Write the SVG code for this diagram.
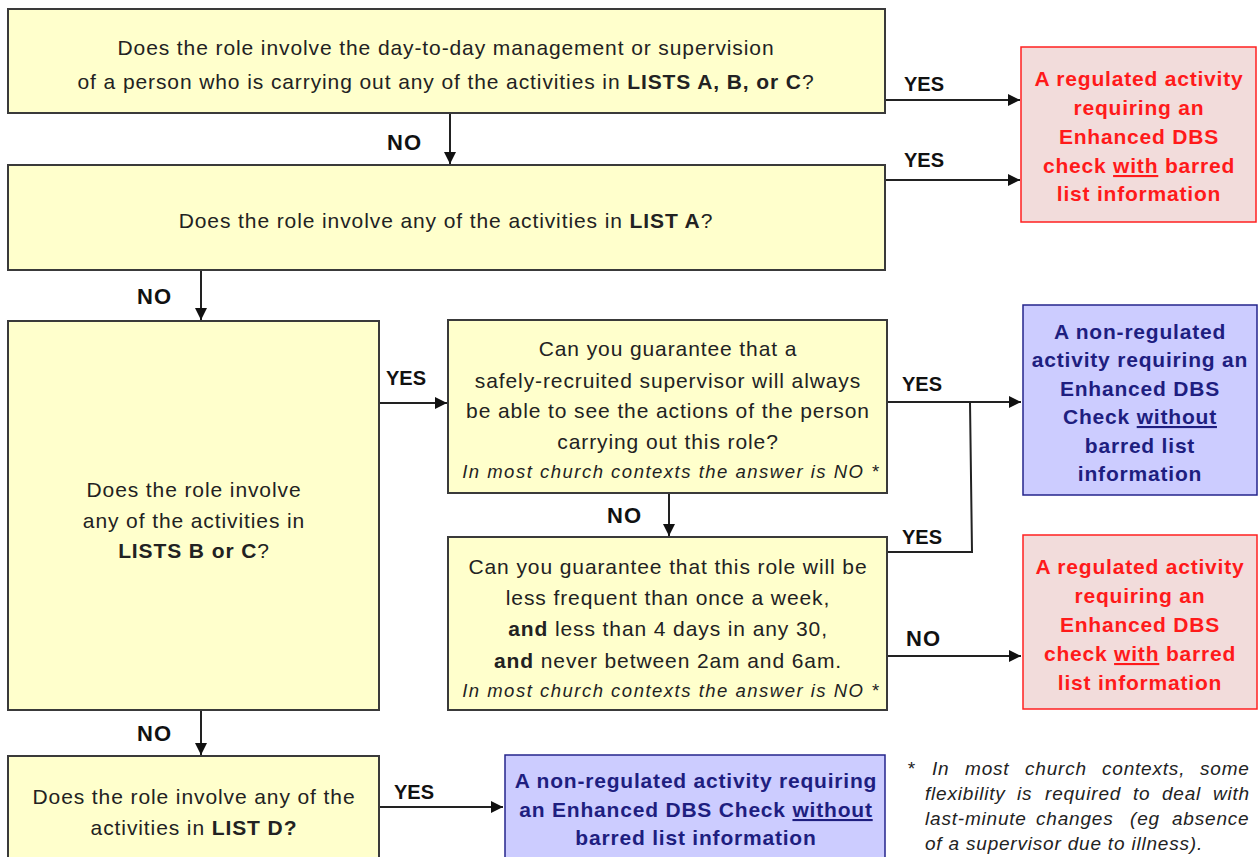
<svg xmlns="http://www.w3.org/2000/svg" width="1260" height="857" viewBox="0 0 1260 857">
<defs>
<style>
.q{fill:#FFFFCC;stroke:#3a3a3a;stroke-width:2}
.r{fill:#F2DCDB;stroke:#FF2020;stroke-width:1.5}
.b{fill:#CCCCFF;stroke:#24248C;stroke-width:1.5}
.t{font-family:"Liberation Sans",Arial,sans-serif;font-size:21px;letter-spacing:0.9px;fill:#222;text-anchor:middle}
.i{font-style:italic;font-size:18.5px;letter-spacing:1.5px}
.rt{font-family:"Liberation Sans",Arial,sans-serif;font-size:21px;letter-spacing:0.8px;font-weight:bold;fill:#FF1A1A;text-anchor:middle}
.bt{font-family:"Liberation Sans",Arial,sans-serif;font-size:21px;letter-spacing:0.8px;font-weight:bold;fill:#1E1E80;text-anchor:middle}
.lb{font-family:"Liberation Sans",Arial,sans-serif;font-size:20px;font-weight:bold;fill:#111}
.no{font-size:22px;letter-spacing:1px}
.c{fill:none;stroke:#222;stroke-width:2}
.fn{font-family:"Liberation Sans",Arial,sans-serif;font-size:19px;letter-spacing:0.8px;font-style:italic;fill:#222}
</style>
<marker id="ah" viewBox="0 0 10 10" refX="10" refY="5" markerWidth="6" markerHeight="6" orient="auto" markerUnits="strokeWidth">
<path d="M0,0 L10,5 L0,10 z" fill="#111"/>
</marker>
</defs>
<rect width="1260" height="857" fill="#fff"/>

<g id="connectors">
<line class="c" x1="885" y1="100" x2="1020" y2="100" marker-end="url(#ah)"/>
<line class="c" x1="885" y1="180" x2="1020" y2="180" marker-end="url(#ah)"/>
<line class="c" x1="450" y1="113" x2="450" y2="164" marker-end="url(#ah)"/>
<line class="c" x1="201" y1="270" x2="201" y2="320" marker-end="url(#ah)"/>
<line class="c" x1="379" y1="403" x2="447" y2="403" marker-end="url(#ah)"/>
<line class="c" x1="887" y1="402" x2="1021" y2="402" marker-end="url(#ah)"/>
<polyline class="c" points="887,552 972,552 970,402"/>
<line class="c" x1="669" y1="493" x2="669" y2="536" marker-end="url(#ah)"/>
<line class="c" x1="887" y1="656" x2="1021" y2="656" marker-end="url(#ah)"/>
<line class="c" x1="201" y1="710" x2="201" y2="755" marker-end="url(#ah)"/>
<line class="c" x1="379" y1="807" x2="503" y2="807" marker-end="url(#ah)"/>
<text class="lb" x="904" y="91">YES</text>
<text class="lb" x="904" y="167">YES</text>
<text class="lb no" x="387" y="150">NO</text>
<text class="lb no" x="137" y="304">NO</text>
<text class="lb" x="386" y="385">YES</text>
<text class="lb" x="902" y="391">YES</text>
<text class="lb" x="902" y="544">YES</text>
<text class="lb no" x="607" y="523">NO</text>
<text class="lb no" x="906" y="646">NO</text>
<text class="lb no" x="137" y="741">NO</text>
<text class="lb" x="394" y="799">YES</text>
</g>

<g id="q1">
<rect class="q" x="8" y="9" width="877" height="104"/>
<text class="t" x="446" y="55">Does the role involve the day-to-day management or supervision</text>
<text class="t" x="446" y="89">of a person who is carrying out any of the activities in <tspan font-weight="bold">LISTS A, B, or C</tspan>?</text>
</g>

<g id="q2">
<rect class="q" x="8" y="165" width="877" height="105"/>
<text class="t" x="446" y="228">Does the role involve any of the activities in <tspan font-weight="bold">LIST A</tspan>?</text>
</g>

<g id="r1">
<rect class="r" x="1021" y="47" width="235" height="175"/>
<text class="rt" x="1139" y="86">A regulated activity</text>
<text class="rt" x="1139" y="115">requiring an</text>
<text class="rt" x="1139" y="144">Enhanced DBS</text>
<text class="rt" x="1139" y="173">check <tspan text-decoration="underline">with</tspan> barred</text>
<text class="rt" x="1139" y="201">list information</text>
</g>

<g id="q3">
<rect class="q" x="8" y="321" width="371" height="389"/>
<text class="t" x="194" y="497">Does the role involve</text>
<text class="t" x="194" y="528">any of the activities in</text>
<text class="t" x="194" y="558"><tspan font-weight="bold">LISTS B or C</tspan>?</text>
</g>

<g id="q4">
<rect class="q" x="448" y="320" width="439" height="173"/>
<text class="t" x="668" y="356">Can you guarantee that a</text>
<text class="t" x="668" y="388">safely-recruited supervisor will always</text>
<text class="t" x="668" y="418">be able to see the actions of the person</text>
<text class="t" x="668" y="449">carrying out this role?</text>
<text class="t i" x="671" y="478">In most church contexts the answer is NO *</text>
</g>

<g id="b1">
<rect class="b" x="1023" y="305" width="234" height="190"/>
<text class="bt" x="1140" y="339">A non-regulated</text>
<text class="bt" x="1140" y="367">activity requiring an</text>
<text class="bt" x="1140" y="396">Enhanced DBS</text>
<text class="bt" x="1140" y="424">Check <tspan text-decoration="underline">without</tspan></text>
<text class="bt" x="1140" y="453">barred list</text>
<text class="bt" x="1140" y="481">information</text>
</g>

<g id="q5">
<rect class="q" x="448" y="537" width="439" height="173"/>
<text class="t" x="668" y="574">Can you guarantee that this role will be</text>
<text class="t" x="668" y="605">less frequent than once a week,</text>
<text class="t" x="668" y="636"><tspan font-weight="bold">and</tspan> less than 4 days in any 30,</text>
<text class="t" x="668" y="668"><tspan font-weight="bold">and</tspan> never between 2am and 6am.</text>
<text class="t i" x="671" y="697">In most church contexts the answer is NO *</text>
</g>

<g id="r2">
<rect class="r" x="1023" y="535" width="234" height="174"/>
<text class="rt" x="1140" y="574">A regulated activity</text>
<text class="rt" x="1140" y="603">requiring an</text>
<text class="rt" x="1140" y="632">Enhanced DBS</text>
<text class="rt" x="1140" y="661">check <tspan text-decoration="underline">with</tspan> barred</text>
<text class="rt" x="1140" y="690">list information</text>
</g>

<g id="q6">
<rect class="q" x="8" y="756" width="371" height="110"/>
<text class="t" x="194" y="804">Does the role involve any of the</text>
<text class="t" x="194" y="835">activities in <tspan font-weight="bold">LIST D?</tspan></text>
</g>

<g id="b2">
<rect class="b" x="505" y="755" width="380" height="110"/>
<text class="bt" x="696" y="788">A non-regulated activity requiring</text>
<text class="bt" x="696" y="817">an Enhanced DBS Check <tspan text-decoration="underline">without</tspan></text>
<text class="bt" x="696" y="845">barred list information</text>
</g>

<g id="footnote">
<text class="fn" y="775"><tspan x="907">*</tspan><tspan x="932">In</tspan><tspan x="965">most</tspan><tspan x="1025">church</tspan><tspan x="1102">contexts,</tspan><tspan x="1200">some</tspan></text>
<text class="fn" y="800"><tspan x="925">flexibility</tspan><tspan x="1017">is</tspan><tspan x="1045">required</tspan><tspan x="1133">to</tspan><tspan x="1162">deal</tspan><tspan x="1213">with</tspan></text>
<text class="fn" y="825"><tspan x="925">last-minute</tspan><tspan x="1036">changes</tspan><tspan x="1130">(eg</tspan><tspan x="1172">absence</tspan></text>
<text class="fn" x="925" y="850">of a supervisor due to illness).</text>
</g>
</svg>
